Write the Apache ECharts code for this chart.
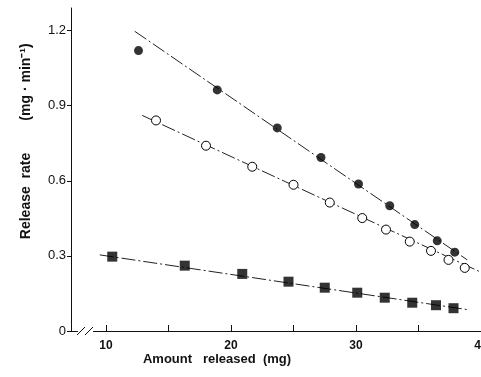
<!DOCTYPE html>
<html>
<head>
<meta charset="utf-8">
<script src="https://cdn.jsdelivr.net/npm/echarts@6/dist/echarts.min.js"></script>
<style>html,body{margin:0;padding:0;background:#fff}#c{width:481px;height:377px}</style>
</head>
<body>
<div id="c"></div>
<script>
// Data
var filledX = [12.6, 18.9, 23.7, 27.2, 30.2, 32.7, 34.7, 36.5, 37.9];
var filledY = [1.12, 0.963, 0.811, 0.693, 0.587, 0.50, 0.425, 0.36, 0.315];
var openX = [14.0, 18.0, 21.7, 25.0, 27.9, 30.5, 32.4, 34.3, 36.0, 37.4, 38.7];
var openY = [0.841, 0.74, 0.656, 0.584, 0.513, 0.451, 0.405, 0.357, 0.32, 0.284, 0.252];
var squareX = [10.5, 16.3, 20.9, 24.6, 27.5, 30.1, 32.3, 34.5, 36.4, 37.8];
var squareY = [0.297, 0.261, 0.228, 0.197, 0.173, 0.153, 0.133, 0.113, 0.103, 0.091];
var filledFitX = [12.3, 38.9], filledFitY = [1.197, 0.284];
var openFitX = [12.9, 39.9], openFitY = [0.861, 0.237];
var squareFitX = [9.5, 39.1], squareFitY = [0.304, 0.084];
var xTickValues = [10, 15, 20, 25, 30, 35, 40];
var xLabelValues = [10, 20, 30, 40];
var yTickValues = [0, 0.3, 0.6, 0.9, 1.2];
var xTitle = 'Amount   released  (mg)';
var yTitleMain = 'Release  rate';
var yTitleUnit = '(mg · min⁻¹)';

function pairs(xs, ys) { return xs.map(function (x, i) { return [x, ys[i]]; }); }

var chart = echarts.init(document.getElementById('c'), null, { renderer: 'canvas' });
var fitStyle = { color: '#222', width: 1, type: [14, 3, 2, 3] };
var font = 'Liberation Sans';
chart.setOption({
  animation: false,
  backgroundColor: '#fff',
  grid: { left: 71, right: 0, top: 8, bottom: 46, outerBoundsMode: 'none', containLabel: false },
  xAxis: {
    type: 'value', min: 7.2, max: 40,
    axisLine: { show: true, lineStyle: { color: '#111', width: 1 } },
    axisTick: { show: true, inside: true, length: 6, customValues: xTickValues, lineStyle: { color: '#111' } },
    axisLabel: { customValues: xLabelValues, margin: 9, color: '#111', fontFamily: font, fontWeight: 'bold', fontSize: 12 },
    splitLine: { show: false }
  },
  yAxis: {
    type: 'value', min: 0, max: 1.29,
    axisLine: { show: true, lineStyle: { color: '#111', width: 1 } },
    axisTick: { show: true, inside: false, length: 4, customValues: yTickValues, lineStyle: { color: '#111' } },
    axisLabel: { customValues: yTickValues, margin: 5, color: '#111', fontFamily: font, fontSize: 13,
      formatter: function (v) { return v === 0 ? '0' : v.toFixed(1); } },
    splitLine: { show: false }
  },
  series: [
    { type: 'line', data: pairs(filledFitX, filledFitY), showSymbol: false, lineStyle: fitStyle, z: 1 },
    { type: 'line', data: pairs(openFitX, openFitY), showSymbol: false, lineStyle: fitStyle, z: 1 },
    { type: 'line', data: pairs(squareFitX, squareFitY), showSymbol: false, lineStyle: fitStyle, z: 1 },
    { type: 'scatter', data: pairs(filledX, filledY), symbol: 'circle', symbolSize: 9,
      itemStyle: { color: '#000' }, z: 3 },
    { type: 'scatter', data: pairs(openX, openY), symbol: 'circle', symbolSize: 9,
      itemStyle: { color: '#fff', borderColor: '#000', borderWidth: 1, opacity: 1 }, z: 3 },
    { type: 'scatter', data: pairs(squareX, squareY), symbol: 'rect', symbolSize: 10,
      itemStyle: { color: '#000' }, z: 3 }
  ],
  graphic: [
    { type: 'rect', shape: { x: 78, y: 329, width: 15, height: 4 }, style: { fill: '#fff' }, z: 50 },
    { type: 'line', shape: { x1: 77, y1: 335, x2: 85, y2: 327 }, style: { stroke: '#111', lineWidth: 1 }, z: 51 },
    { type: 'line', shape: { x1: 85, y1: 335, x2: 93, y2: 327 }, style: { stroke: '#111', lineWidth: 1 }, z: 51 },
    { type: 'text', x: 217, y: 359, style: { text: xTitle, font: 'bold 13px "Liberation Sans"', fill: '#111',
      align: 'center', verticalAlign: 'middle' }, z: 50 },
    { type: 'text', x: 26, y: 196, rotation: Math.PI / 2, style: { text: yTitleMain, font: 'bold 14px "Liberation Sans"', fill: '#111',
      align: 'center', verticalAlign: 'middle' }, z: 50 },
    { type: 'text', x: 26, y: 82, rotation: Math.PI / 2, style: { text: yTitleUnit, font: 'bold 14px "Liberation Sans"', fill: '#111',
      align: 'center', verticalAlign: 'middle' }, z: 50 }
  ]
});
</script>
</body>
</html>
